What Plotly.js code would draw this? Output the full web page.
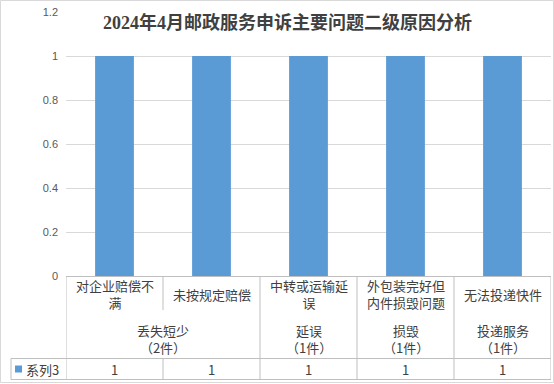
<!DOCTYPE html>
<html>
<head>
<meta charset="utf-8">
<script src="https://cdn.plot.ly/plotly-3.0.1.min.js"></script>
<style>html,body{margin:0;padding:0;background:#fff;}#chart{width:554px;height:384px;}</style>
</head>
<body>
<div id="chart"></div>
<script>
// ---- data ----
const chartTitle = '2024年4月邮政服务申诉主要问题二级原因分析';
const categories = ['对企业赔偿不满', '未按规定赔偿', '中转或运输延误', '外包装完好但内件损毁问题', '无法投递快件'];
const categoryLabels = ['对企业赔偿不<br>满', '未按规定赔偿', '中转或运输延<br>误', '外包装完好但<br>内件损毁问题', '无法投递快件'];
const groupNames = ['丢失短少', '延误', '损毁', '投递服务'];
const groupCounts = [2, 1, 1, 1];
const seriesName = '系列3';
const values = [1, 1, 1, 1, 1];
const yTickVals = [0, 0.2, 0.4, 0.6, 0.8, 1, 1.2];
const yTickText = ['0', '0.2', '0.4', '0.6', '0.8', '1', '1.2'];

// ---- geometry (pixels) ----
const W = 554, H = 384;
const L = 66, R = 551, T = 12, B = 276;
const PW = R - L, PH = B - T;
const yp = py => (B - py) / PH;      // pixel y -> paper y
const xp = px => (px - L) / PW;      // pixel x -> paper x

const CJK = 'Microsoft YaHei, Noto Sans CJK SC, sans-serif';
const txtColor = '#404040';
const lineColor = '#BFBFBF';
const barColor = '#5B9BD5';

const xIdx = categories.map((c, i) => i);

const shapes = [];
const annotations = [];
function hline(x0, x1, xref, py) {
  shapes.push({type: 'line', xref: xref, yref: 'paper', x0: x0, x1: x1, y0: yp(py), y1: yp(py),
    line: {color: lineColor, width: 1}, layer: 'above'});
}
function vline(x, xref, py0, py1) {
  shapes.push({type: 'line', xref: xref, yref: 'paper', x0: x, x1: x, y0: yp(py0), y1: yp(py1),
    line: {color: lineColor, width: 1}, layer: 'above'});
}

// table horizontal lines
hline(0, 1, 'paper', 276.5);
hline(xp(11), 1, 'paper', 358.5);
hline(xp(11), 1, 'paper', 379.5);
vline(xp(11), 'paper', 358.5, 379.5);

// group boundaries (full height) and category boundaries within groups
let start = 0;
const boundaries = [-0.5];
groupNames.forEach((g, gi) => {
  const n = groupCounts[gi];
  const centre = start + (n - 1) / 2;
  annotations.push({xref: 'x', yref: 'paper', x: centre, y: yp(339), xanchor: 'center', yanchor: 'middle',
    text: g + '<br>（' + n + '件）', showarrow: false, align: 'center', borderpad: 0,
    font: {family: CJK, size: 13, color: txtColor}});
  for (let k = 1; k < n; k++) {
    vline(start + k - 0.5, 'x', 276.5, 310);
    vline(start + k - 0.5, 'x', 358.5, 379.5);
  }
  start += n;
  boundaries.push(start - 0.5);
});
boundaries.forEach(b => vline(b, 'x', 276.5, 379.5));

// category labels and data-table values
xIdx.forEach(i => {
  annotations.push({xref: 'x', yref: 'paper', x: i, y: yp(294), xanchor: 'center', yanchor: 'middle',
    text: categoryLabels[i], showarrow: false, align: 'center', borderpad: 0,
    font: {family: CJK, size: 13, color: txtColor}});
  annotations.push({xref: 'x', yref: 'paper', x: i, y: yp(369), xanchor: 'center', yanchor: 'middle',
    text: String(values[i]), showarrow: false, borderpad: 0,
    font: {family: CJK, size: 13, color: txtColor}});
});

// legend key in data table
shapes.push({type: 'rect', xref: 'paper', yref: 'paper', x0: xp(15), x1: xp(22), y0: yp(372.5), y1: yp(365.5),
  fillcolor: barColor, line: {width: 0}, layer: 'above'});
annotations.push({xref: 'paper', yref: 'paper', x: xp(25), y: yp(369), xanchor: 'left', yanchor: 'middle',
  text: seriesName, showarrow: false, borderpad: 0, font: {family: CJK, size: 13, color: txtColor}});

// outer chart border
shapes.push({type: 'rect', xref: 'paper', yref: 'paper', x0: xp(0.5), x1: xp(553.5), y0: yp(382.5), y1: yp(0.5),
  line: {color: '#D9D9D9', width: 1}, fillcolor: 'rgba(0,0,0,0)', layer: 'below'});

const trace = {
  type: 'bar', x: xIdx, y: values, name: seriesName,
  marker: {color: barColor, line: {width: 0}},
  hoverinfo: 'skip'
};

const layout = {
  width: W, height: H,
  margin: {l: L, r: W - R, t: T, b: H - B, pad: 0},
  paper_bgcolor: '#fff', plot_bgcolor: '#fff',
  showlegend: false,
  bargap: 0.6,
  title: {text: chartTitle, xref: 'container', yref: 'container', x: 287.5 / W, y: 1 - 23 / H,
    xanchor: 'center', yanchor: 'middle',
    font: {family: 'Liberation Serif, Noto Sans CJK SC, serif', size: 18, color: '#404040', weight: 'bold'}},
  xaxis: {range: [-0.5, categories.length - 0.5], showticklabels: false, showgrid: false, zeroline: false,
    showline: false, ticks: '', fixedrange: true},
  yaxis: {range: [0, 1.2], tickvals: yTickVals, ticktext: yTickText, showgrid: true, gridcolor: '#D9D9D9',
    gridwidth: 1, zeroline: false, showline: false, ticks: '', ticklabelstandoff: 7,
    tickfont: {family: 'Liberation Sans, Arial, sans-serif', size: 11, color: '#595959'}, fixedrange: true},
  shapes: shapes,
  annotations: annotations
};

Plotly.newPlot('chart', [trace], layout, {displayModeBar: false, staticPlot: true});
</script>
</body>
</html>
